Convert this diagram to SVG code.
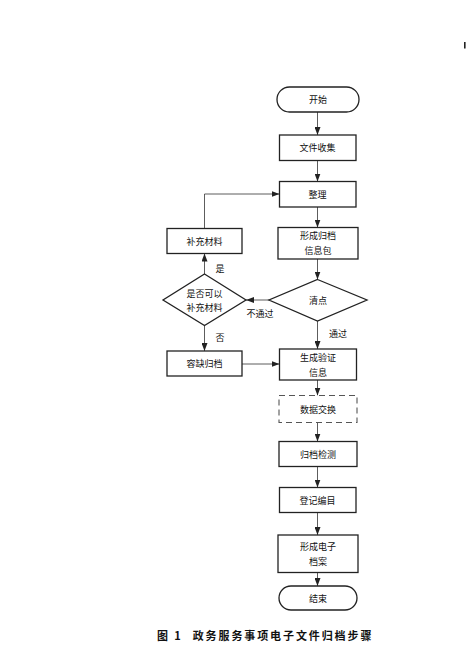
<svg xmlns="http://www.w3.org/2000/svg" width="468" height="653" viewBox="0 0 468 653">
<style>
.box{fill:#fff;stroke:#222;stroke-width:1.3}
.dash{fill:#fff;stroke:#555;stroke-width:1.1;stroke-dasharray:6 4}
.t{font-family:"Noto Sans CJK SC","Noto Sans",sans-serif;font-size:9px;fill:#111;text-anchor:middle;dominant-baseline:central}
.c{fill:none;stroke:#333;stroke-width:0.8}
.cap{font-family:"Noto Sans CJK SC","Noto Sans",sans-serif;font-size:11px;font-weight:bold;fill:#111;dominant-baseline:central;letter-spacing:1.9px}
</style>
<defs>
<marker id="ah" viewBox="0 0 8 6" refX="8" refY="3" markerWidth="8" markerHeight="6" markerUnits="userSpaceOnUse" orient="auto">
<path d="M0,0 L8,3 L0,6 Z" fill="#222"/>
</marker>
</defs>
<rect x="464" y="42" width="1.6" height="6.5" fill="#222"/>
<g id="connectors">
<line class="c" x1="317.5" y1="112" x2="317.5" y2="135" marker-end="url(#ah)"/>
<line class="c" x1="317.5" y1="160.5" x2="317.5" y2="181.5" marker-end="url(#ah)"/>
<line class="c" x1="317.5" y1="207" x2="317.5" y2="227.5" marker-end="url(#ah)"/>
<line class="c" x1="317.5" y1="259" x2="317.5" y2="279.5" marker-end="url(#ah)"/>
<line class="c" x1="317.5" y1="321" x2="317.5" y2="349" marker-end="url(#ah)"/>
<line class="c" x1="317.5" y1="380" x2="317.5" y2="395.5" marker-end="url(#ah)"/>
<line class="c" x1="317.5" y1="422.5" x2="317.5" y2="441.5" marker-end="url(#ah)"/>
<line class="c" x1="317.5" y1="466.5" x2="317.5" y2="487.5" marker-end="url(#ah)"/>
<line class="c" x1="317.5" y1="512.5" x2="317.5" y2="535" marker-end="url(#ah)"/>
<line class="c" x1="317.5" y1="572.5" x2="317.5" y2="586" marker-end="url(#ah)"/>
<line class="c" x1="269" y1="300" x2="246" y2="300" marker-end="url(#ah)"/>
<line class="c" x1="204.5" y1="274" x2="204.5" y2="253.5" marker-end="url(#ah)"/>
<polyline class="c" points="204.5,228.5 204.5,194 279.5,194" marker-end="url(#ah)"/>
<line class="c" x1="204.5" y1="325.5" x2="204.5" y2="351" marker-end="url(#ah)"/>
<line class="c" x1="242" y1="364" x2="279.5" y2="364" marker-end="url(#ah)"/>
<text class="t" x="220" y="268">是</text>
<text class="t" x="260" y="313">不通过</text>
<text class="t" x="338" y="333">通过</text>
<text class="t" x="220" y="337">否</text>
</g>
<g id="start"><rect class="box" x="277" y="87" width="82" height="25" rx="12.5"/><text class="t" x="318" y="99.5">开始</text></g>
<g id="collect"><rect class="box" x="279.5" y="135" width="76.5" height="25.5"/><text class="t" x="317.5" y="147.8">文件收集</text></g>
<g id="organize"><rect class="box" x="279.5" y="181.5" width="76.5" height="25.5"/><text class="t" x="317.5" y="194.2">整理</text></g>
<g id="package"><rect class="box" x="278" y="227.5" width="80" height="31.5"/><text class="t" x="318" y="235.5">形成归档</text><text class="t" x="318" y="250.5">信息包</text></g>
<g id="check"><polygon class="box" points="317.5,279.5 367,300 317.5,321 269,300"/><text class="t" x="318" y="300">清点</text></g>
<g id="supplement"><rect class="box" x="167" y="228.5" width="75" height="25"/><text class="t" x="204.5" y="241">补充材料</text></g>
<g id="decide"><polygon class="box" points="204.5,274 246,300 204.5,325.5 163,300"/><text class="t" x="204.5" y="293">是否可以</text><text class="t" x="204.5" y="307.5">补充材料</text></g>
<g id="tolerate"><rect class="box" x="167" y="351" width="75" height="25"/><text class="t" x="204.5" y="363.5">容缺归档</text></g>
<g id="verify"><rect class="box" x="279.5" y="349" width="77" height="31"/><text class="t" x="318" y="357">生成验证</text><text class="t" x="318" y="372">信息</text></g>
<g id="exchange"><rect class="dash" x="279" y="395.5" width="78" height="27"/><text class="t" x="318" y="409">数据交换</text></g>
<g id="detect"><rect class="box" x="279" y="441.5" width="78" height="25"/><text class="t" x="318" y="454">归档检测</text></g>
<g id="register"><rect class="box" x="279.5" y="487.5" width="76.5" height="25"/><text class="t" x="317.5" y="500">登记编目</text></g>
<g id="archive"><rect class="box" x="278" y="535" width="80" height="37.5"/><text class="t" x="318" y="546">形成电子</text><text class="t" x="318" y="561">档案</text></g>
<g id="end"><rect class="box" x="279" y="586" width="78" height="24" rx="12"/><text class="t" x="318" y="598">结束</text></g>
<text class="cap" x="157" y="635">图 1</text>
<text class="cap" x="192.7" y="635">政务服务事项电子文件归档步骤</text>
</svg>
